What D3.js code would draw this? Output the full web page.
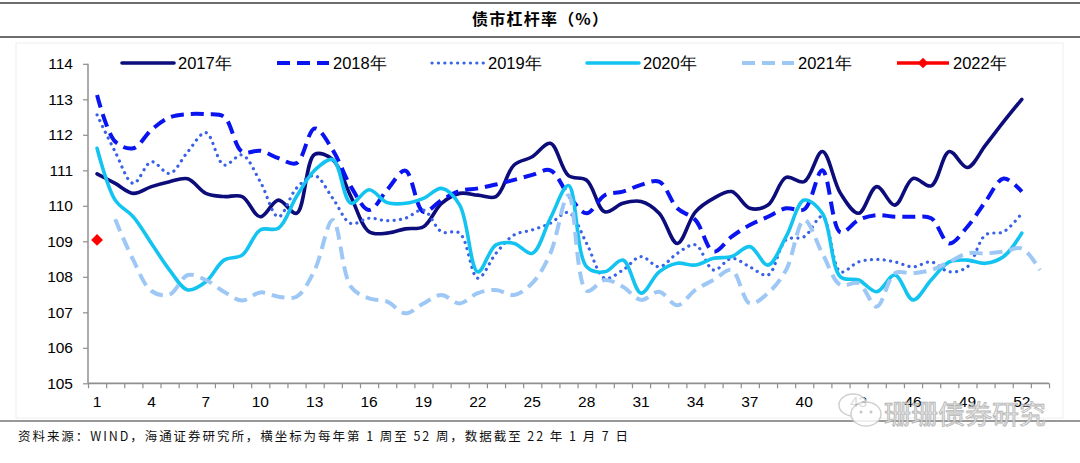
<!DOCTYPE html>
<html><head><meta charset="utf-8">
<script src="https://cdn.jsdelivr.net/npm/d3@7/dist/d3.min.js"></script>
<style>
html,body{margin:0;padding:0;background:#fff;}
svg{display:block;}
</style></head>
<body>
<svg id="c" width="1080" height="463"></svg>
<script>
const weeks = d3.range(1, 54);
const tickWeeks = [1,4,7,10,13,16,19,22,25,28,31,34,37,40,43,46,49,52];
const yTicks = [105,106,107,108,109,110,111,112,113,114];
const seriesNames = ["2017年","2018年","2019年","2020年","2021年","2022年"];

const y2017 = [110.9,110.63,110.35,110.54,110.68,110.76,110.35,110.26,110.26,109.69,110.16,109.79,111.45,111.3,110.26,109.27,109.23,109.35,109.41,110.07,110.35,110.3,110.26,111.15,111.38,111.76,110.85,110.72,109.83,110.07,110.12,109.79,108.94,109.83,110.21,110.4,109.93,110.02,110.8,110.68,111.53,110.35,109.79,110.54,110.02,110.77,110.56,111.53,111.08,111.71,112.37,113.0];
const y2018 = [113.12,111.81,111.62,112.14,112.49,112.58,112.58,112.51,111.52,111.55,111.34,111.2,112.18,111.57,110.54,109.88,110.45,110.99,109.83,110.16,110.42,110.49,110.6,110.73,110.87,111.0,110.3,109.79,110.3,110.4,110.59,110.68,109.93,109.6,108.71,109.13,109.46,109.69,109.93,109.9,111.0,109.25,109.6,109.74,109.69,109.69,109.65,108.94,109.41,110.12,110.77,110.4];
const y2019 = [112.56,111.52,110.63,111.24,110.91,111.52,112.06,111.15,111.43,110.68,109.69,110.5,110.85,110.21,109.5,109.65,109.58,109.65,109.88,109.27,109.23,107.96,108.66,109.18,109.32,109.51,109.81,108.94,107.96,108.19,108.57,108.28,108.66,108.9,108.19,108.52,108.28,108.05,109.04,109.13,109.7,108.14,108.42,108.49,108.42,108.28,108.42,108.14,108.28,109.18,109.27,109.79];
const y2020 = [111.62,110.16,109.69,108.94,108.19,107.63,107.86,108.47,108.61,109.32,109.37,110.26,111.0,111.3,110.07,110.45,110.09,110.07,110.21,110.49,110.02,108.14,108.9,108.94,108.66,109.65,110.57,108.28,108.14,108.47,107.54,108.14,108.38,108.33,108.52,108.57,108.85,108.33,109.13,110.16,109.79,108.0,107.91,107.58,108.05,107.35,107.91,108.42,108.47,108.38,108.57,109.23];
const y2021 = [null,109.62,108.47,107.6,107.5,108.05,107.91,107.58,107.33,107.56,107.44,107.44,108.19,109.6,107.72,107.39,107.3,106.97,107.25,107.49,107.25,107.54,107.63,107.49,107.82,108.66,110.3,107.6,107.91,107.72,107.35,107.58,107.2,107.63,107.91,108.19,107.25,107.54,108.19,109.6,108.66,107.77,107.82,107.16,108.1,108.1,108.19,108.42,108.66,108.66,108.71,108.8,108.19];
const y2022 = [109.04];

const svg = d3.select("#c");
const FONT = "'Liberation Sans', Arial, sans-serif";
const CJK = "'Noto Sans CJK SC', sans-serif";

// frame rules
svg.append("line").attr("x1",0).attr("x2",1080).attr("y1",3).attr("y2",3).attr("stroke","#6e6e6e").attr("stroke-width",2);
svg.append("line").attr("x1",0).attr("x2",1080).attr("y1",37).attr("y2",37).attr("stroke","#6e6e6e").attr("stroke-width",2);
svg.append("line").attr("x1",0).attr("x2",1080).attr("y1",421).attr("y2",421).attr("stroke","#333").attr("stroke-width",1.2);
svg.append("rect").attr("x",16).attr("y",43).attr("width",1047).attr("height",375).attr("fill","none").attr("stroke","#eeeeee").attr("stroke-width",1);

svg.append("text").attr("x",540).attr("y",25).attr("text-anchor","middle")
  .attr("font-family",CJK).attr("font-weight","bold").attr("font-size",16)
  .attr("textLength",136).attr("lengthAdjust","spacing")
  .text("债市杠杆率（%）");

svg.append("text").attr("x",18).attr("y",441)
  .attr("font-family",CJK).attr("font-size",12.5).attr("fill","#111")
  .attr("textLength",610).attr("lengthAdjust","spacing")
  .text("资料来源：WIND，海通证券研究所，横坐标为每年第 1 周至 52 周，数据截至 22 年 1 月 7 日");

// scales
const x = d3.scaleBand().domain(weeks).range([88, 1049]).paddingInner(0).paddingOuter(0);
const xl = d3.scaleLinear().domain([0.5, 53.5]).range([88, 1049]);
const y = d3.scaleLinear().domain([105, 114]).range([383.3, 63.8]);
const cx = w => x(w) + x.bandwidth()/2;

// y axis
const gy = svg.append("g").attr("transform","translate(88,0)")
  .call(d3.axisLeft(y).tickValues(yTicks).tickSize(5).tickPadding(10).tickFormat(d3.format("d")));
gy.select(".domain").attr("stroke","#8f8f8f").attr("stroke-width",1.5).attr("d","M0,63.8V383.3");
gy.selectAll(".tick line").attr("stroke","#8f8f8f").attr("stroke-width",1.2);
gy.selectAll(".tick text").attr("font-family",FONT).attr("font-size",15.5).attr("fill","#000");

// x axis ticks at boundaries
const gx = svg.append("g").attr("transform","translate(0,383.3)")
  .call(d3.axisBottom(xl).tickValues(d3.range(0.5, 54, 1)).tickSize(5).tickFormat(""));
gx.select(".domain").attr("stroke","#8f8f8f").attr("stroke-width",1.8).attr("d","M88,0H1049");
gx.selectAll(".tick line").attr("stroke","#8f8f8f").attr("stroke-width",1.2);
const gxl = svg.append("g").attr("transform","translate(0,383.3)")
  .call(d3.axisBottom(x).tickValues(tickWeeks).tickSize(0).tickPadding(13));
gxl.select(".domain").remove();
gxl.selectAll(".tick text").attr("font-family",FONT).attr("font-size",15.5).attr("fill","#000");

// series
const series = [
  {name:seriesNames[0], data:y2017, color:"#0c0c7a", width:3.6, dash:null, cap:"round"},
  {name:seriesNames[1], data:y2018, color:"#0a14f0", width:4, dash:"13 7", cap:"butt"},
  {name:seriesNames[2], data:y2019, color:"#3a62e8", width:3.2, dash:"0.1 6.3", cap:"round"},
  {name:seriesNames[3], data:y2020, color:"#13c3f0", width:3.6, dash:null, cap:"round"},
  {name:seriesNames[4], data:y2021, color:"#9dc8f5", width:4, dash:"13 7", cap:"butt"}
];
const line = d3.line()
  .defined(d => d.v != null)
  .x(d => cx(d.w)).y(d => y(d.v))
  .curve(d3.curveCatmullRom.alpha(0.5));

series.forEach(s => {
  const pts = s.data.map((v,i) => ({w: weeks[i], v}));
  svg.append("path").datum(pts).attr("d", line)
    .attr("fill","none").attr("stroke",s.color).attr("stroke-width",s.width)
    .attr("stroke-dasharray",s.dash).attr("stroke-linecap",s.cap).attr("stroke-linejoin","round");
});
// 2022 diamond
const diamond = d3.symbol().type(d3.symbolDiamond2).size(90);
y2022.forEach((v,i) => {
  svg.append("path").attr("d",diamond).attr("transform",`translate(${cx(weeks[i])},${y(v)})`).attr("fill","#ff0000");
});

// legend
const legX = [122, 277, 432, 587, 742, 897];
const legY = 63;
const legStyles = series.concat([{name:seriesNames[5], color:"#ff0000", width:3.6, dash:null, cap:"butt"}]);
legStyles.forEach((s,i) => {
  const g = svg.append("g").attr("transform",`translate(${legX[i]},${legY})`);
  g.append("line").attr("x1",0).attr("x2",52).attr("y1",0).attr("y2",0)
    .attr("stroke",s.color).attr("stroke-width",s.width).attr("stroke-dasharray",s.dash)
    .attr("stroke-linecap",s.cap);
  if (i === 5) g.append("path").attr("d",d3.symbol().type(d3.symbolDiamond2).size(70)).attr("transform","translate(26,0)").attr("fill","#ff0000");
  g.append("text").attr("x",56).attr("y",6).attr("font-family",FONT).attr("font-size",16.5).attr("fill","#000")
    .text(s.name);
});

// watermark
const wm = svg.append("g").attr("opacity",0.85);
wm.append("ellipse").attr("cx",853).attr("cy",405).attr("rx",14).attr("ry",11).attr("fill","#fff").attr("stroke","#c8c8c8").attr("stroke-width",1.5);
wm.append("ellipse").attr("cx",866).attr("cy",414).attr("rx",15).attr("ry",12).attr("fill","#fff").attr("stroke","#c8c8c8").attr("stroke-width",1.5);
wm.append("circle").attr("cx",861).attr("cy",412).attr("r",1.5).attr("fill","#bbb");
wm.append("circle").attr("cx",871).attr("cy",412).attr("r",1.5).attr("fill","#bbb");
wm.append("text").attr("x",884).attr("y",424).attr("font-family",CJK).attr("font-size",26)
  .attr("fill","#e9e9e9").attr("stroke","#a9a9a9").attr("stroke-width",0.8)
  .attr("textLength",162).attr("lengthAdjust","spacingAndGlyphs")
  .text("珊珊债券研究");
</script>
</body></html>
